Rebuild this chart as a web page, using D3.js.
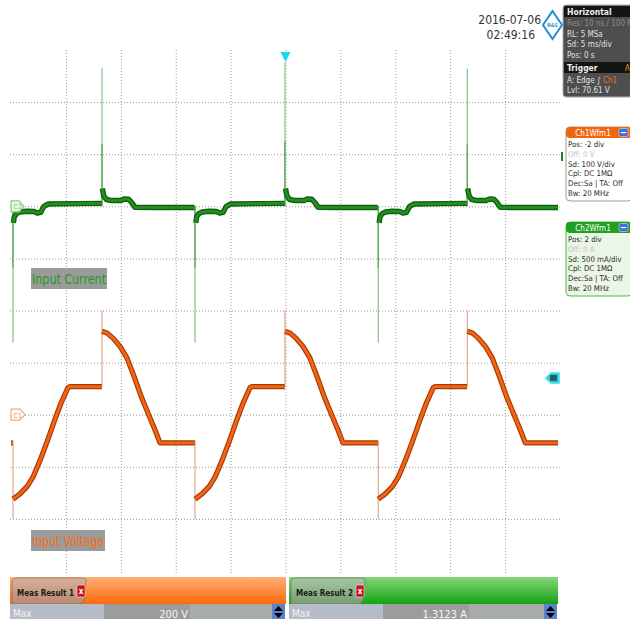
<!DOCTYPE html>
<html><head><meta charset="utf-8">
<script src="https://cdn.jsdelivr.net/npm/d3@7"></script>
<style>
html,body{margin:0;padding:0;background:#fff;}
svg{display:block;}
text{font-family:"DejaVu Sans Condensed","Liberation Sans Narrow","Roboto Condensed","Liberation Sans",sans-serif;}
</style></head>
<body>
<svg id="c" width="630" height="619"></svg>
<script>
// ---------- DATA ----------
const timeGridMs = [-20, -15, -10, -5, 0, 5, 10, 15, 20];          // 5 ms/div
const voltGridV  = [-200, -100, 0, 100, 200, 300, 400, 500, 600];    // 100 V/div

// Ch1 input voltage (t ms, V); null = break in the trace
const voltageTrace = [
  [-25.0, -54], [-24.84, -54], null,
  [-24.82, -162], [-24.18, -152], [-23.54, -138], [-23.00, -120], [-22.36, -88], [-21.72, -52], [-21.08, -14], [-20.45, 22], [-19.81, 52], [-19.63, 54], [-16.73, 54], null,
  [-16.71, 160], [-16.26, 157], [-15.71, 147], [-15.07, 131], [-14.44, 109], [-13.80, 74], [-13.16, 36], [-12.52, 3], [-11.89, -29], [-11.43, -54], [-8.26, -54], null,
  [-8.24, -162], [-7.60, -152], [-6.96, -138], [-6.42, -120], [-5.78, -88], [-5.14, -52], [-4.50, -14], [-3.87, 22], [-3.23, 52], [-3.05, 54], [-0.07, 54], null,
  [-0.05, 160], [0.40, 157], [0.95, 147], [1.59, 131], [2.22, 109], [2.86, 74], [3.50, 36], [4.14, 3], [4.77, -29], [5.23, -54], [8.43, -54], null,
  [8.45, -162], [9.09, -152], [9.73, -138], [10.27, -120], [10.91, -88], [11.55, -52], [12.19, -14], [12.82, 22], [13.46, 52], [13.64, 54], [16.54, 54], null,
  [16.56, 160], [17.01, 157], [17.56, 147], [18.20, 131], [18.83, 109], [19.47, 74], [20.11, 36], [20.75, 3], [21.38, -29], [21.84, -54], [24.82, -54]
];
// thin transition edges: [t ms, from V, to V]
const voltageEdges = [
  [-24.82, -50, -200], [-16.71, 54, 200], [-8.24, -50, -200],
  [-0.05, 54, 200], [8.45, -50, -200], [16.56, 54, 200]
];

// Ch2 input current (t ms, A)
const currentTrace = [
  [-25.0, -0.005], [-24.86, -0.005], null,
  [-24.78, -0.16], [-24.7, -0.10], [-24.5, -0.07], [-24.2, -0.055], [-23.6, -0.048], [-22.9, -0.05], [-22.6, -0.065], [-22.3, -0.058], [-22.0, 0.0], [-21.6, 0.022], [-19.0, 0.026], [-16.75, 0.028], null,
  [-16.68, 0.17], [-16.55, 0.10], [-16.3, 0.065], [-15.8, 0.055], [-15.0, 0.055], [-14.7, 0.07], [-14.3, 0.068], [-14.0, 0.035], [-13.7, -0.01], [-12.0, -0.012], [-8.28, -0.012], null,
  [-8.17, -0.16], [-8.09, -0.10], [-7.89, -0.07], [-7.59, -0.055], [-6.99, -0.048], [-6.29, -0.05], [-5.99, -0.065], [-5.69, -0.058], [-5.39, 0.0], [-4.99, 0.022], [-2.39, 0.026], [-0.09, 0.028], null,
  [0.0, 0.17], [0.13, 0.10], [0.38, 0.065], [0.88, 0.055], [1.68, 0.055], [1.98, 0.07], [2.38, 0.068], [2.68, 0.035], [2.98, -0.01], [4.72, -0.012], [8.40, -0.012], null,
  [8.53, -0.16], [8.61, -0.10], [8.81, -0.07], [9.11, -0.055], [9.71, -0.048], [10.41, -0.05], [10.71, -0.065], [11.01, -0.058], [11.31, 0.0], [11.71, 0.022], [14.31, 0.026], [16.51, 0.028], null,
  [16.59, 0.17], [16.72, 0.10], [16.97, 0.065], [17.47, 0.055], [18.27, 0.055], [18.57, 0.07], [18.97, 0.068], [19.27, 0.035], [19.57, -0.01], [21.27, -0.012], [24.82, -0.012]
];
// current spikes: [t ms, peak A]
const currentSpikes = [
  [-24.82, -1.31], [-16.71, 1.33], [-8.24, -1.31], [-0.05, 1.38], [8.45, -1.31], [16.56, 1.32]
];

const horizontalInfo = ["Res: 10 ns / 100 MS", "RL: 5 MSa", "Sd: 5 ms/div", "Pos: 0 s"];
const ch1Info = ["Pos: -2 div", "Off: 0 V", "Sd: 100 V/div", "Cpl: DC 1MΩ", "Dec:Sa | TA: Off", "Bw: 20 MHz"];
const ch2Info = ["Pos: 2 div", "Off: 0 A", "Sd: 500 mA/div", "Cpl: DC 1MΩ", "Dec:Sa | TA: Off", "Bw: 20 MHz"];
const measLabels = ["Meas Result 1", "Meas Result 2"];
const measValues = ["200 V", "1.3123 A"];

// ---------- SCALES ----------
const L = 11, R = 560, T = 50, B = 571;
const x  = d3.scaleLinear().domain([-25, 25]).range([L, R]);
const yV = d3.scaleLinear().domain([-300, 700]).range([B, T]);
const yI = d3.scaleLinear().domain([-3.5, 1.5]).range([B, T]);

const svg = d3.select("#c");
svg.append("rect").attr("width", 630).attr("height", 619).attr("fill", "#fff");

// ---------- GRID ----------
const gx = svg.append("g").attr("transform", `translate(0,${T})`)
  .call(d3.axisTop(x).tickValues(timeGridMs).tickSize(-(B - T + 2)).tickFormat(""));
gx.select(".domain").remove();
gx.selectAll("line").attr("stroke", "#9a9a9a").attr("stroke-dasharray", "1,2");

const gy = svg.append("g").attr("transform", `translate(${L - 1},0)`)
  .call(d3.axisLeft(yV).tickValues(voltGridV).tickSize(-(R - L + 1)).tickFormat(""));
gy.select(".domain").remove();
gy.selectAll("line").attr("stroke", "#9a9a9a").attr("stroke-dasharray", "1,2");

// ---------- CURRENT (Ch2) ----------
const lineI = d3.line().defined(d => d !== null).x(d => x(d[0])).y(d => yI(d[1]));
const gI = svg.append("g");
gI.selectAll("line.spk").data(currentSpikes).join("line")
  .attr("x1", d => x(d[0])).attr("x2", d => x(d[0]))
  .attr("y1", yI(0)).attr("y2", d => yI(d[1]))
  .attr("stroke", "#8fc98f").attr("stroke-width", 1.3);
gI.selectAll("line.spk2").data(currentSpikes).join("line")
  .attr("x1", d => x(d[0])).attr("x2", d => x(d[0]))
  .attr("y1", yI(0)).attr("y2", d => yI(d[1] * 0.45))
  .attr("stroke", "#5aa85a").attr("stroke-width", 1.3);
gI.append("path").datum(currentTrace).attr("d", lineI)
  .attr("fill", "none").attr("stroke", "#0d620d").attr("stroke-width", 5.4).attr("stroke-linejoin", "round");
gI.append("path").datum(currentTrace).attr("d", lineI)
  .attr("fill", "none").attr("stroke", "#23901f").attr("stroke-width", 2.6).attr("stroke-linejoin", "round");

// ---------- VOLTAGE (Ch1) ----------
const lineV = d3.line().defined(d => d !== null).x(d => x(d[0])).y(d => yV(d[1]));
const gV = svg.append("g");
gV.selectAll("line").data(voltageEdges).join("line")
  .attr("x1", d => x(d[0])).attr("x2", d => x(d[0]))
  .attr("y1", d => yV(d[1])).attr("y2", d => yV(d[2]))
  .attr("stroke", "#e4ad95").attr("stroke-width", 1.3);
gV.append("path").datum(voltageTrace).attr("d", lineV)
  .attr("fill", "none").attr("stroke", "#a83a06").attr("stroke-width", 5.2).attr("stroke-linejoin", "round");
gV.append("path").datum(voltageTrace).attr("d", lineV)
  .attr("fill", "none").attr("stroke", "#f26512").attr("stroke-width", 2.8).attr("stroke-linejoin", "round");

// ---------- MARKERS ----------
function tag(g, px, py, w, h, dir) {
  const pts = dir > 0
    ? [[px, py - h/2], [px + w - 5, py - h/2], [px + w, py], [px + w - 5, py + h/2], [px, py + h/2]]
    : [[px, py], [px + 5, py - h/2], [px + w, py - h/2], [px + w, py + h/2], [px + 5, py + h/2]];
  return g.append("polygon").attr("points", pts.map(p => p.join(",")).join(" "));
}
const gm = svg.append("g");
tag(gm, 11, yI(0), 13, 11, 1).attr("fill", "#e9f7e6").attr("stroke", "#86cf7f").attr("stroke-width", 1.2);
gm.append("text").attr("x", 13.5).attr("y", yI(0) + 3).attr("font-size", 7).attr("fill", "#7cc777").text("C2");
tag(gm, 11, yV(0), 14, 11, 1).attr("fill", "#fff").attr("stroke", "#f3a77a").attr("stroke-width", 1.2);
gm.append("text").attr("x", 13.5).attr("y", yV(0) + 3).attr("font-size", 7).attr("fill", "#f08a4a").text("C1");
// trigger position marker
gm.append("polygon").attr("points", `${x(0) - 5},52 ${x(0) + 5},52 ${x(0)},62`).attr("fill", "#1fd8ec");
// trigger level marker
tag(gm, 546, yV(70.61), 13, 10, -1).attr("fill", "#2fc9d6").attr("stroke", "#2fe3ef").attr("stroke-width", 1.5);
gm.append("rect").attr("x", 550).attr("y", yV(70.61) - 3).attr("width", 7).attr("height", 6).attr("fill", "#2d5a5e");

// ---------- LABELS ----------
function labelBox(tx, ty, w, txt, col) {
  svg.append("rect").attr("x", tx).attr("y", ty).attr("width", w).attr("height", 21).attr("fill", "#9b9b9b");
  svg.append("text").attr("x", tx + 1).attr("y", ty + 16).attr("font-size", 14).attr("fill", col)
    .attr("textLength", w - 2).attr("lengthAdjust", "spacingAndGlyphs").text(txt);
}
labelBox(31, 268, 76, "Input Current", "#1e9a1e");
labelBox(31, 530, 74, "Input Voltage", "#ff6a10");

// ---------- DATE & LOGO ----------
svg.append("text").attr("x", 541).attr("y", 24).attr("text-anchor", "end").attr("font-size", 12).attr("fill", "#333").text("2016-07-06");
svg.append("text").attr("x", 535).attr("y", 39).attr("text-anchor", "end").attr("font-size", 12).attr("fill", "#333").text("02:49:16");
svg.append("polygon").attr("points", "552.5,11 562,25 552.5,39 543,25").attr("fill", "#fff").attr("stroke", "#1e8fd6").attr("stroke-width", 2);
svg.append("text").attr("x", 552.5).attr("y", 27).attr("text-anchor", "middle").attr("font-size", 5).attr("font-weight", "bold").attr("fill", "#1e8fd6").text("R&S");

// ---------- HORIZONTAL / TRIGGER PANEL ----------
const hp = svg.append("g");
hp.append("rect").attr("x", 563).attr("y", 5).attr("width", 72).attr("height", 92).attr("rx", 3).attr("fill", "#4e4e4e").attr("stroke", "#aaa");
hp.append("rect").attr("x", 564).attr("y", 6).attr("width", 70).attr("height", 11).attr("fill", "#141414");
hp.append("text").attr("x", 567).attr("y", 14.5).attr("font-size", 8.5).attr("font-weight", "bold").attr("fill", "#eee").text("Horizontal");
hp.selectAll("text.h").data(horizontalInfo).join("text")
  .attr("x", 567).attr("y", (d, i) => 26 + i * 10.5).attr("font-size", 8)
  .attr("fill", (d, i) => i === 0 ? "#8c8c8c" : "#e2e2e2").text(d => d);
hp.append("rect").attr("x", 564).attr("y", 62).attr("width", 70).attr("height", 11).attr("fill", "#141414");
hp.append("text").attr("x", 567).attr("y", 70.5).attr("font-size", 8.5).attr("font-weight", "bold").attr("fill", "#eee").text("Trigger");
hp.append("text").attr("x", 625).attr("y", 70.5).attr("font-size", 8).attr("fill", "#e0a000").text("A");
const tl = hp.append("text").attr("x", 567).attr("y", 83).attr("font-size", 8).attr("fill", "#e2e2e2");
tl.append("tspan").text("A:   Edge ∫ ");
tl.append("tspan").attr("fill", "#f07020").text("Ch1");
hp.append("text").attr("x", 567).attr("y", 93).attr("font-size", 8).attr("fill", "#e2e2e2").text("Lvl: 70.61 V");

// ---------- CHANNEL PANELS ----------
function chPanel(py, title, hdr, body, border, lines) {
  const g = svg.append("g");
  g.append("rect").attr("x", 566).attr("y", py).attr("width", 66).attr("height", 74).attr("rx", 4).attr("fill", body).attr("stroke", border);
  g.append("rect").attr("x", 566).attr("y", py).attr("width", 66).attr("height", 11).attr("rx", 4).attr("fill", hdr);
  g.append("text").attr("x", 593).attr("y", py + 8.5).attr("text-anchor", "middle").attr("font-size", 8).attr("fill", "#fff").text(title);
  g.append("rect").attr("x", 619).attr("y", py + 1.5).attr("width", 9).attr("height", 8).attr("rx", 1.5).attr("fill", "#3f6fd6").attr("stroke", "#cfe0ff").attr("stroke-width", 0.6);
  g.append("rect").attr("x", 621).attr("y", py + 5).attr("width", 5).attr("height", 1.2).attr("fill", "#fff");
  g.selectAll("text.r").data(lines).join("text")
    .attr("x", 568).attr("y", (d, i) => py + 20 + i * 9.8).attr("font-size", 7.8)
    .attr("fill", (d, i) => i === 1 ? "#c4c4c4" : "#2a2a2a").text(d => d);
}
chPanel(127, "Ch1Wfm1", "#f2650f", "#ffffff", "#9a9a9a", ch1Info);
chPanel(222, "Ch2Wfm1", "#20a020", "#ebf6e6", "#4cb84c", ch2Info);
svg.append("rect").attr("x", 561).attr("y", 152).attr("width", 2).attr("height", 9).attr("fill", "#2c7a2c");

// ---------- MEASUREMENT BARS ----------
const defs = svg.append("defs");
function grad(id, c1, c2) {
  const gr = defs.append("linearGradient").attr("id", id).attr("x1", 0).attr("x2", 0).attr("y1", 0).attr("y2", 1);
  gr.append("stop").attr("offset", "0%").attr("stop-color", c1);
  gr.append("stop").attr("offset", "100%").attr("stop-color", c2);
}
grad("gO", "#ffae78", "#ff6a0a");
grad("gG", "#86d67a", "#14a314");
grad("tO", "#d8b09a", "#b88a70");
grad("tG", "#a3c7a0", "#789e76");

function measPanel(px, w, fillId, tabId, label, value) {
  const g = svg.append("g");
  g.append("rect").attr("x", px).attr("y", 577).attr("width", w).attr("height", 27).attr("fill", `url(#${fillId})`);
  g.append("path").attr("d", `M${px + 2},604 L${px + 2},582 Q${px + 2},578 ${px + 6},578 L${px + 74},578 Q${px + 77},578 ${px + 76},582 L${px + 74},600 Q${px + 73},604 ${px + 69},604 Z`)
    .attr("fill", `url(#${tabId})`).attr("stroke", "#7a6a5a").attr("stroke-width", 0.6);
  g.append("text").attr("x", px + 7).attr("y", 596).attr("font-size", 8).attr("font-weight", "bold").attr("fill", "#1a1a1a").text(label);
  g.append("rect").attr("x", px + 67).attr("y", 585).attr("width", 8).attr("height", 12).attr("rx", 1.5).attr("fill", "#c8141a").attr("stroke", "#fff").attr("stroke-width", 0.5);
  g.append("text").attr("x", px + 71).attr("y", 594).attr("text-anchor", "middle").attr("font-size", 8).attr("font-weight", "bold").attr("fill", "#fff").text("x");
  g.append("rect").attr("x", px).attr("y", 604).attr("width", 94).attr("height", 15).attr("fill", "#b5bcc7");
  g.append("text").attr("x", px + 3).attr("y", 617).attr("font-size", 10).attr("fill", "#f4f4f4").text("Max");
  g.append("rect").attr("x", px + 94).attr("y", 604).attr("width", 86).attr("height", 15).attr("fill", "#9c9c9c");
  g.append("text").attr("x", px + 178).attr("y", 618).attr("text-anchor", "end").attr("font-size", 11).attr("fill", "#f4f4f4").text(value);
  g.append("rect").attr("x", px + 180).attr("y", 604).attr("width", w - 194).attr("height", 15).attr("fill", "#a7abab");
  g.append("rect").attr("x", px + w - 14).attr("y", 604).attr("width", 13).attr("height", 15).attr("fill", "#5a82c8");
  g.append("polygon").attr("points", `${px + w - 7.5},606 ${px + w - 12},611 ${px + w - 3},611`).attr("fill", "#000");
  g.append("polygon").attr("points", `${px + w - 7.5},618 ${px + w - 12},613 ${px + w - 3},613`).attr("fill", "#000");
}
measPanel(10, 276, "gO", "tO", measLabels[0], measValues[0]);
measPanel(289, 269, "gG", "tG", measLabels[1], measValues[1]);
</script>
</body></html>
